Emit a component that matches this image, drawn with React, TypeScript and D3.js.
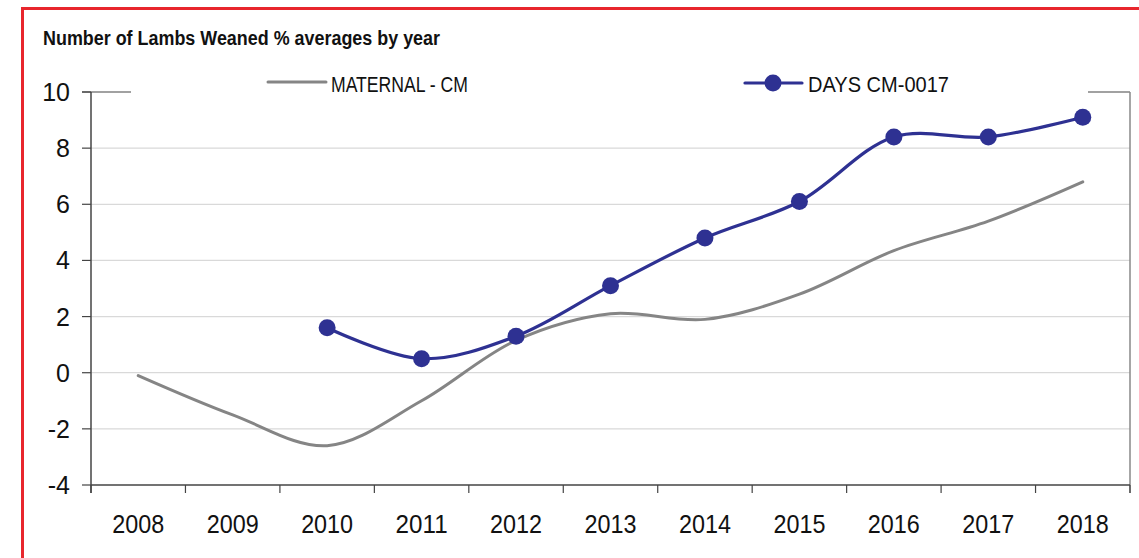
import React from "react";
import * as d3 from "d3";

const years = ["2008", "2009", "2010", "2011", "2012", "2013", "2014", "2015", "2016", "2017", "2018"];
const maternal = [-0.1, -1.5, -2.6, -1.0, 1.15, 2.1, 1.9, 2.8, 4.35, 5.4, 6.8];
const daysYears = ["2010", "2011", "2012", "2013", "2014", "2015", "2016", "2017", "2018"];
const daysValues = [1.6, 0.5, 1.3, 3.1, 4.8, 6.1, 8.4, 8.4, 9.1];
const yTicks = [-4, -2, 0, 2, 4, 6, 8, 10];
const title = "Number of Lambs Weaned % averages by year";
const legendMaternal = "MATERNAL - CM";
const legendDays = "DAYS CM-0017";

const W = 1139;
const H = 558;
const FONT = "'Liberation Sans', Arial, sans-serif";

export default function App() {
  const left = 91;
  const right = 1130;
  const top = 92;
  const bottom = 485;

  const x = d3.scaleBand<string>().domain(years).range([left, right]).padding(0);
  const y = d3.scaleLinear().domain([-4, 10]).range([bottom, top]);
  const cx = (yr: string) => (x(yr) as number) + x.bandwidth() / 2;

  const curve = d3.curveCatmullRom.alpha(0.5);
  const maternalLine = d3
    .line<number>()
    .x((_, i) => cx(years[i]))
    .y((d) => y(d))
    .curve(curve)(maternal) as string;
  const daysLine = d3
    .line<number>()
    .x((_, i) => cx(daysYears[i]))
    .y((d) => y(d))
    .curve(curve)(daysValues) as string;

  const boundaries = years.map((yr) => x(yr) as number).concat([right]);

  const blue = "#2e3192";
  const grey = "#858585";
  const axisColor = "#444";

  return (
    <svg
      width={W}
      height={H}
      style={{ position: "absolute", left: 0, top: 0, background: "#fff" }}
      fontFamily={FONT}
    >
      <rect x={0} y={0} width={W} height={H} fill="#fff" />
      {/* red frame */}
      <path d={`M22.5,${H} V8.5 H${W}`} fill="none" stroke="#e8262d" strokeWidth={3} />

      {/* title */}
      <text
        x={43}
        y={45}
        fontSize={20}
        fontWeight="bold"
        fill="#111"
        textLength={397}
        lengthAdjust="spacingAndGlyphs"
      >
        {title}
      </text>

      {/* gridlines */}
      {yTicks
        .filter((t) => t > -4 && t < 10)
        .map((t) => (
          <line key={"g" + t} x1={left} x2={right} y1={y(t)} y2={y(t)} stroke="#d9d9d9" strokeWidth={1.2} />
        ))}

      {/* top border segments (interrupted by legend) */}
      <line x1={82} x2={131} y1={y(10)} y2={y(10)} stroke={axisColor} strokeWidth={1.2} />
      <line x1={1088} x2={right} y1={y(10)} y2={y(10)} stroke={axisColor} strokeWidth={1.2} />
      {/* right border */}
      <line x1={right} x2={right} y1={y(10)} y2={bottom + 8} stroke="#888" strokeWidth={1.5} />

      {/* y axis */}
      <line x1={left} x2={left} y1={y(10)} y2={bottom + 8} stroke={axisColor} strokeWidth={1.5} />
      {yTicks.map((t) => (
        <g key={"yt" + t}>
          <line x1={82} x2={left} y1={y(t)} y2={y(t)} stroke={axisColor} strokeWidth={1.2} />
          <text x={70} y={y(t)} dy="0.36em" textAnchor="end" fontSize={25} fill="#111">
            {t}
          </text>
        </g>
      ))}

      {/* x axis */}
      <line x1={left} x2={right} y1={bottom} y2={bottom} stroke={axisColor} strokeWidth={1.5} />
      {boundaries.map((b, i) => (
        <line key={"xt" + i} x1={b} x2={b} y1={bottom} y2={bottom + 8} stroke={axisColor} strokeWidth={1.2} />
      ))}
      {years.map((yr) => (
        <text key={"xl" + yr} x={cx(yr)} y={533} textAnchor="middle" fontSize={25} fill="#111" textLength={52} lengthAdjust="spacingAndGlyphs">
          {yr}
        </text>
      ))}

      {/* series */}
      <path d={maternalLine} fill="none" stroke={grey} strokeWidth={3} strokeLinecap="round" />
      <path d={daysLine} fill="none" stroke={blue} strokeWidth={3.2} strokeLinecap="round" />
      {daysValues.map((v, i) => (
        <circle key={"m" + i} cx={cx(daysYears[i])} cy={y(v)} r={8.5} fill={blue} />
      ))}

      {/* legend */}
      <line x1={268} x2={326} y1={82} y2={82} stroke={grey} strokeWidth={3} strokeLinecap="round" />
      <text x={331} y={92} fontSize={22} fill="#111" textLength={137} lengthAdjust="spacingAndGlyphs">
        {legendMaternal}
      </text>
      <line x1={745} x2={802} y1={83} y2={83} stroke={blue} strokeWidth={3.2} strokeLinecap="round" />
      <circle cx={773} cy={83} r={8.5} fill={blue} />
      <text x={808} y={92} fontSize={22} fill="#111" textLength={141} lengthAdjust="spacingAndGlyphs">
        {legendDays}
      </text>
    </svg>
  );
}
